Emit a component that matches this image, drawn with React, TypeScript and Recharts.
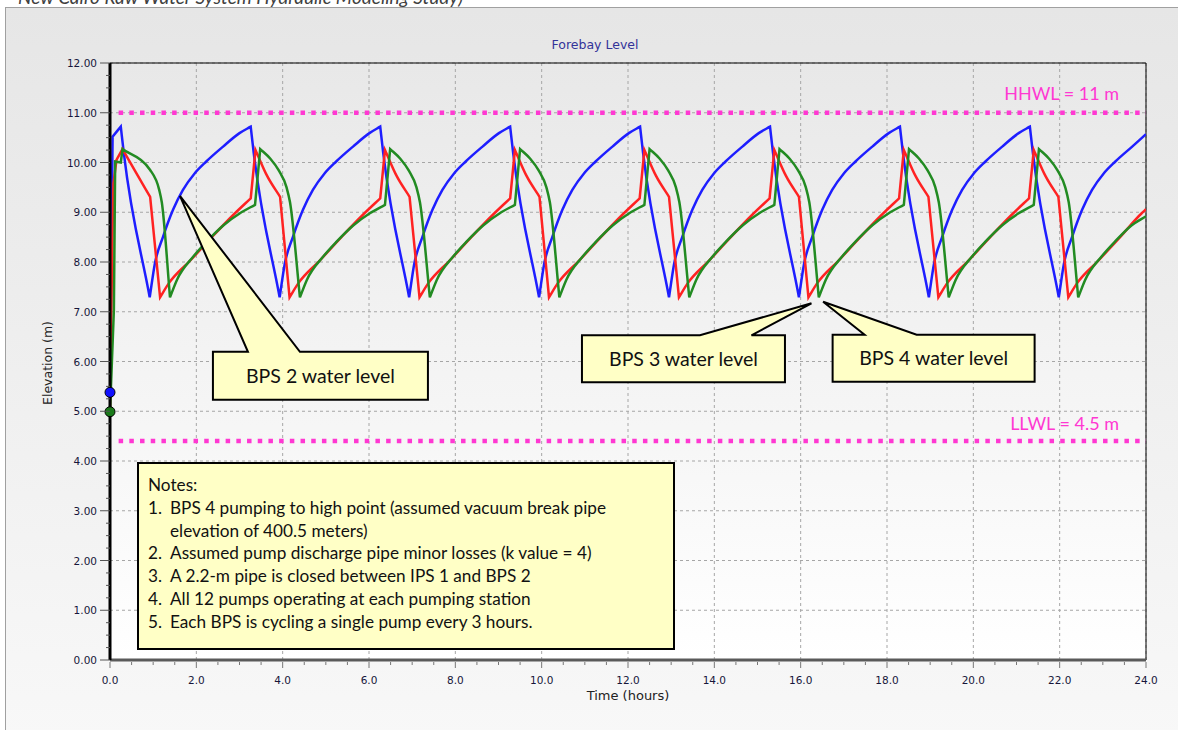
import React from "react";
import {
  CartesianGrid,
  Line,
  LineChart,
  ReferenceArea,
  ReferenceDot,
  ReferenceLine,
  XAxis,
  YAxis,
} from "recharts";

type Pt = [number, number];

// [time (hours), elevation (m)]
const bps2Level: Pt[] = [
  [0, 5.38], [0.06, 10.52], [0.25, 10.72], [0.32, 10.19], [0.92, 7.29],
  [1.04, 7.97], [1.23, 8.51], [1.46, 9.05], [1.69, 9.45], [1.96, 9.78], [2.23, 10.02], [2.62, 10.32], [3.0, 10.59], [3.26, 10.72], [3.33, 10.19], [3.93, 7.29],
  [4.05, 7.97], [4.24, 8.51], [4.47, 9.05], [4.7, 9.45], [4.97, 9.78], [5.24, 10.02], [5.63, 10.32], [6.01, 10.59], [6.26, 10.72], [6.33, 10.19], [6.93, 7.29],
  [7.05, 7.97], [7.24, 8.51], [7.47, 9.05], [7.7, 9.45], [7.97, 9.78], [8.24, 10.02], [8.63, 10.32], [9.01, 10.59], [9.27, 10.72], [9.34, 10.19], [9.94, 7.29],
  [10.06, 7.97], [10.25, 8.51], [10.48, 9.05], [10.71, 9.45], [10.98, 9.78], [11.25, 10.02], [11.64, 10.32], [12.02, 10.59], [12.28, 10.72], [12.35, 10.19], [12.95, 7.29],
  [13.07, 7.97], [13.26, 8.51], [13.49, 9.05], [13.72, 9.45], [13.99, 9.78], [14.26, 10.02], [14.65, 10.32], [15.03, 10.59], [15.29, 10.72], [15.36, 10.19], [15.96, 7.29],
  [16.08, 7.97], [16.27, 8.51], [16.5, 9.05], [16.73, 9.45], [17.0, 9.78], [17.27, 10.02], [17.66, 10.32], [18.04, 10.59], [18.3, 10.72], [18.37, 10.19], [18.97, 7.29],
  [19.09, 7.97], [19.28, 8.51], [19.51, 9.05], [19.74, 9.45], [20.01, 9.78], [20.28, 10.02], [20.67, 10.32], [21.05, 10.59], [21.31, 10.72], [21.38, 10.19], [21.98, 7.29],
  [22.1, 7.97], [22.29, 8.51], [22.52, 9.05], [22.75, 9.45], [23.02, 9.78], [23.29, 10.02], [23.68, 10.32], [24.0, 10.57],
];

const bps3Level: Pt[] = [
  [0, 5.0], [0.05, 8.2], [0.08, 9.58], [0.15, 10.05], [0.29, 10.27], [0.6, 9.8], [0.93, 9.31], [1.16, 7.29],
  [1.36, 7.57], [1.86, 8.03], [2.36, 8.5], [2.86, 8.95], [3.26, 9.28], [3.37, 10.25], [3.64, 9.73], [3.94, 9.31], [4.16, 7.29],
  [4.36, 7.57], [4.86, 8.03], [5.36, 8.5], [5.86, 8.95], [6.26, 9.28], [6.37, 10.25], [6.64, 9.73], [6.94, 9.31], [7.17, 7.29],
  [7.37, 7.57], [7.87, 8.03], [8.37, 8.5], [8.87, 8.95], [9.27, 9.28], [9.38, 10.25], [9.65, 9.73], [9.95, 9.31], [10.17, 7.29],
  [10.37, 7.57], [10.87, 8.03], [11.37, 8.5], [11.87, 8.95], [12.27, 9.28], [12.38, 10.25], [12.65, 9.73], [12.95, 9.31], [13.18, 7.29],
  [13.38, 7.57], [13.88, 8.03], [14.38, 8.5], [14.88, 8.95], [15.28, 9.28], [15.39, 10.25], [15.66, 9.73], [15.96, 9.31], [16.18, 7.29],
  [16.38, 7.57], [16.88, 8.03], [17.38, 8.5], [17.88, 8.95], [18.28, 9.28], [18.39, 10.25], [18.66, 9.73], [18.96, 9.31], [19.19, 7.29],
  [19.39, 7.57], [19.89, 8.03], [20.39, 8.5], [20.89, 8.95], [21.29, 9.28], [21.4, 10.25], [21.67, 9.73], [21.97, 9.31], [22.2, 7.29],
  [22.4, 7.57], [22.9, 8.03], [23.4, 8.5], [23.9, 8.98], [24.0, 9.06],
];

const bps4Level: Pt[] = [
  [0, 4.99], [0.09, 7.04], [0.12, 10.02], [0.25, 10.0], [0.29, 10.27], [0.93, 9.85], [1.14, 9.45], [1.2, 9.2], [1.39, 7.29],
  [1.55, 7.64], [1.93, 8.11], [2.24, 8.41], [2.63, 8.74], [3.01, 8.98], [3.36, 9.15], [3.48, 10.27], [3.71, 10.08], [3.91, 9.84], [4.09, 9.5], [4.17, 9.2], [4.4, 7.29],
  [4.56, 7.64], [4.94, 8.11], [5.25, 8.41], [5.64, 8.74], [6.02, 8.98], [6.37, 9.15], [6.49, 10.27], [6.72, 10.08], [6.92, 9.84], [7.1, 9.5], [7.18, 9.2], [7.41, 7.29],
  [7.57, 7.64], [7.95, 8.11], [8.26, 8.41], [8.65, 8.74], [9.03, 8.98], [9.38, 9.15], [9.5, 10.27], [9.73, 10.08], [9.93, 9.84], [10.11, 9.5], [10.19, 9.2], [10.41, 7.29],
  [10.57, 7.64], [10.95, 8.11], [11.26, 8.41], [11.65, 8.74], [12.03, 8.98], [12.38, 9.15], [12.5, 10.27], [12.73, 10.08], [12.93, 9.84], [13.11, 9.5], [13.19, 9.2], [13.42, 7.29],
  [13.58, 7.64], [13.96, 8.11], [14.27, 8.41], [14.66, 8.74], [15.04, 8.98], [15.39, 9.15], [15.51, 10.27], [15.74, 10.08], [15.94, 9.84], [16.12, 9.5], [16.2, 9.2], [16.42, 7.29],
  [16.58, 7.64], [16.96, 8.11], [17.27, 8.41], [17.66, 8.74], [18.04, 8.98], [18.39, 9.15], [18.51, 10.27], [18.74, 10.08], [18.94, 9.84], [19.12, 9.5], [19.2, 9.2], [19.43, 7.29],
  [19.59, 7.64], [19.97, 8.11], [20.28, 8.41], [20.67, 8.74], [21.05, 8.98], [21.4, 9.15], [21.52, 10.27], [21.75, 10.08], [21.95, 9.84], [22.13, 9.5], [22.21, 9.2], [22.43, 7.29],
  [22.59, 7.64], [22.97, 8.11], [23.28, 8.41], [23.67, 8.74], [24.0, 8.92],
];

const hhwl = 11;
const llwl = 4.4; // drawn slightly under the 4.5 m label, as in the source
const levelStart = 0.2;

const xMajor = [0, 2, 4, 6, 8, 10, 12, 14, 16, 18, 20, 22, 24];
const yMajor = [0, 1, 2, 3, 4, 5, 6, 7, 8, 9, 10, 11, 12];
const xTicks = Array.from({ length: 49 }, (_, i) => i * 0.5);
const yTicks = Array.from({ length: 49 }, (_, i) => i * 0.25);

const notes = [
  "BPS 4 pumping to high point (assumed vacuum break pipe elevation of 400.5 meters)",
  "Assumed pump discharge pipe minor losses (k value = 4)",
  "A 2.2-m pipe is closed between IPS 1 and BPS 2",
  "All 12 pumps operating at each pumping station",
  "Each BPS is cycling a single pump every 3 hours.",
];

// callout boxes: tip sits on a data point, box is offset in px from the tip
const callouts = [
  { text: "BPS 2 water level", at: [1.62, 9.33], box: [33, 156, 248, 204], base: [68, 120] },
  { text: "BPS 3 water level", at: [16.25, 7.17], box: [-229.5, 32, -26.5, 79], base: [-111.5, -60] },
  { text: "BPS 4 water level", at: [16.52, 7.2], box: [9.5, 33, 211.5, 80], base: [41.5, 93.5] },
];

const W = 1178;
const H = 730;
const MAGENTA = "#ff38d2";
const TICK_FONT = "'DejaVu Sans', Verdana, sans-serif";
const NOTE_FONT = "Lato, 'Open Sans', sans-serif";

const toRows = (pts: Pt[]) => pts.map(([t, v]) => ({ t, v }));

// monotone cubic curve that keeps sharp corners at peaks, troughs and abrupt slope changes
function cornerCurve(context: any) {
  let xs: number[] = [];
  let ys: number[] = [];
  return {
    areaStart() {},
    areaEnd() {},
    lineStart() {
      xs = [];
      ys = [];
    },
    point(x: number, y: number) {
      xs.push(+x);
      ys.push(+y);
    },
    lineEnd() {
      const n = xs.length;
      if (!n) return;
      context.moveTo(xs[0], ys[0]);
      if (n === 1) return;
      const s: number[] = [];
      for (let i = 0; i < n - 1; i++) {
        const h = xs[i + 1] - xs[i];
        s.push(h ? (ys[i + 1] - ys[i]) / h : 0);
      }
      const mL: number[] = new Array(n);
      const mR: number[] = new Array(n);
      mR[0] = s[0];
      mL[n - 1] = s[n - 2];
      for (let i = 1; i < n - 1; i++) {
        const a = s[i - 1];
        const b = s[i];
        const big = Math.max(Math.abs(a), Math.abs(b));
        const small = Math.min(Math.abs(a), Math.abs(b)) || 1e-9;
        if (a * b <= 0 || big / small > 3) {
          mL[i] = a;
          mR[i] = b;
        } else {
          const h0 = xs[i] - xs[i - 1];
          const h1 = xs[i + 1] - xs[i];
          const p = (a * h1 + b * h0) / (h0 + h1);
          const m = Math.sign(a) * Math.min(2 * Math.abs(a), 2 * Math.abs(b), Math.abs(p));
          mL[i] = m;
          mR[i] = m;
        }
      }
      for (let i = 0; i < n - 1; i++) {
        const dx = (xs[i + 1] - xs[i]) / 3;
        context.bezierCurveTo(
          xs[i] + dx, ys[i] + mR[i] * dx,
          xs[i + 1] - dx, ys[i + 1] - mL[i + 1] * dx,
          xs[i + 1], ys[i + 1]
        );
      }
    },
  };
}

function YTick(props: any) {
  const { x, y, payload } = props;
  const major = Number.isInteger(payload.value);
  return (
    <g>
      <line x1={x - (major ? 10 : 4)} x2={x} y1={y} y2={y} stroke="#555" />
      {major && (
        <text x={x - 13} y={y + 4} textAnchor="end" fontFamily={TICK_FONT} fontSize={10.5} fill="#16163a">
          {payload.value.toFixed(2)}
        </text>
      )}
    </g>
  );
}

function XTick(props: any) {
  const { x, y, payload } = props;
  const major = payload.value % 2 === 0;
  return (
    <g>
      <line x1={x} x2={x} y1={y + 2} y2={y + (major ? 8 : 5)} stroke="#777" />
      {major && (
        <text x={x} y={y + 24} textAnchor="middle" fontFamily={TICK_FONT} fontSize={10.5} fill="#16163a">
          {payload.value.toFixed(1)}
        </text>
      )}
    </g>
  );
}

const levelLabel = (text: string, dy: number) => (props: any) => {
  const vb = props.viewBox || {};
  return (
    <text x={vb.x + vb.width - 27} y={vb.y - dy} textAnchor="end" fill={MAGENTA} fontFamily={NOTE_FONT} fontSize={18}>
      {text}
    </text>
  );
};

function Callout({ cx, cy, spec }: any) {
  const [bx0, by0, bx1, by1] = spec.box;
  const l = cx + bx0, t = cy + by0, r = cx + bx1, b = cy + by1;
  const p0 = cx + spec.base[0], p1 = cx + spec.base[1];
  const d = `M${l},${t} L${p0},${t} L${cx},${cy} L${p1},${t} L${r},${t} L${r},${b} L${l},${b} Z`;
  return (
    <g>
      <path d={d} fill="#ffffc6" stroke="#000" strokeWidth={2} strokeLinejoin="miter" />
      <text x={(l + r) / 2} y={(t + b) / 2 + 7} textAnchor="middle" fontFamily={NOTE_FONT} fontSize={19.5} fill="#111">
        {spec.text}
      </text>
    </g>
  );
}

export default function App() {
  return (
    <div style={{ position: "absolute", left: 0, top: 0, width: W, height: H, overflow: "hidden", background: "#fff" }}>
      <div
        style={{
          position: "absolute",
          left: 5,
          top: 7,
          width: W,
          height: H,
          border: "1px solid #a0a0a0",
          background: "linear-gradient(#e6e6e6, #f8f8f8)",
        }}
      />
      <div style={{ position: "absolute", left: 0, top: 0 }}>
        <LineChart width={W} height={H} margin={{ top: 63, right: 32, bottom: 40, left: 50 }}>
          <defs>
            <linearGradient id="plotBg" x1="0" y1="0" x2="0" y2="1">
              <stop offset="0%" stopColor="#e8e8e8" />
              <stop offset="100%" stopColor="#ffffff" />
            </linearGradient>
          </defs>
          <CartesianGrid
            fill="url(#plotBg)"
            fillOpacity={1}
            stroke="#a6a6a6"
            strokeDasharray="3 3"
            horizontalValues={yMajor}
            verticalValues={xMajor}
          />
          <XAxis
            type="number"
            dataKey="t"
            domain={[0, 24]}
            ticks={xTicks}
            interval={0}
            tick={<XTick />}
            tickLine={false}
            tickSize={0}
            tickMargin={0}
            axisLine={{ stroke: "#5a5a5a", strokeWidth: 3 }}
            height={30}
            allowDataOverflow
          />
          <YAxis
            type="number"
            domain={[0, 12]}
            ticks={yTicks}
            interval={0}
            tick={<YTick />}
            tickLine={false}
            tickSize={0}
            tickMargin={0}
            axisLine={{ stroke: "#000", strokeWidth: 3 }}
            width={60}
            allowDataOverflow
          />
          <ReferenceLine
            segment={[{ x: levelStart, y: hhwl }, { x: 24, y: hhwl }]}
            stroke={MAGENTA}
            strokeWidth={4.5}
            strokeDasharray="4.5 6.2"
            label={levelLabel("HHWL = 11 m", 13)}
          />
          <ReferenceLine
            segment={[{ x: levelStart, y: llwl }, { x: 24, y: llwl }]}
            stroke={MAGENTA}
            strokeWidth={4.5}
            strokeDasharray="4.5 6.2"
            label={levelLabel("LLWL = 4.5 m", 11)}
          />
          <Line data={toRows(bps2Level)} dataKey="v" type={cornerCurve as any} stroke="#1e1eff" strokeWidth={2.5} dot={false} isAnimationActive={false} />
          <Line data={toRows(bps3Level)} dataKey="v" type={cornerCurve as any} stroke="#ff2222" strokeWidth={2.5} dot={false} isAnimationActive={false} />
          <Line data={toRows(bps4Level)} dataKey="v" type={cornerCurve as any} stroke="#228b22" strokeWidth={2.5} dot={false} isAnimationActive={false} />
          <ReferenceArea x1={0} x2={24} y1={0} y2={12} fill="none" stroke="#000" strokeWidth={1} />
          <ReferenceDot x={bps2Level[0][0]} y={bps2Level[0][1]} r={5} fill="#1010ff" stroke="#000" strokeWidth={1} />
          <ReferenceDot x={bps4Level[0][0]} y={bps4Level[0][1]} r={5} fill="#1a7a1a" stroke="#000" strokeWidth={1} />
          {callouts.map((c) => (
            <ReferenceDot
              key={c.text}
              x={c.at[0]}
              y={c.at[1]}
              r={1}
              shape={(p: any) => <Callout cx={p.cx} cy={p.cy} spec={c} />}
            />
          ))}
        </LineChart>
      </div>
      <svg width={W} height={H} style={{ position: "absolute", left: 0, top: 0, pointerEvents: "none" }}>
        <text x={18} y={4} fontFamily={NOTE_FONT} fontStyle="italic" fontSize={19} fill="#404040">
          New Cairo Raw Water System Hydraulic Modeling Study)
        </text>
        <text x={595} y={49} textAnchor="middle" fontFamily={TICK_FONT} fontSize={12.5} fill="#333399">
          Forebay Level
        </text>
        <text x={52} y={363} transform="rotate(-90 52 363)" textAnchor="middle" fontFamily={TICK_FONT} fontSize={12.5} fill="#222">
          Elevation (m)
        </text>
        <text x={628} y={700} textAnchor="middle" fontFamily={TICK_FONT} fontSize={13} fill="#222">
          Time (hours)
        </text>
      </svg>
      <div
        style={{
          position: "absolute",
          left: 137,
          top: 462,
          width: 538,
          height: 188,
          border: "2px solid #000",
          background: "#ffffc6",
          fontFamily: NOTE_FONT,
          fontSize: 17.2,
          lineHeight: "22.8px",
          color: "#111",
          padding: "10px 0 0 9px",
          boxSizing: "border-box",
        }}
      >
        <div>Notes:</div>
        {notes.map((n, i) => (
          <div key={i} style={{ display: "flex" }}>
            <span style={{ width: 22, flex: "none" }}>{i + 1}.</span>
            <span style={{ width: 462 }}>{n}</span>
          </div>
        ))}
      </div>
    </div>
  );
}
